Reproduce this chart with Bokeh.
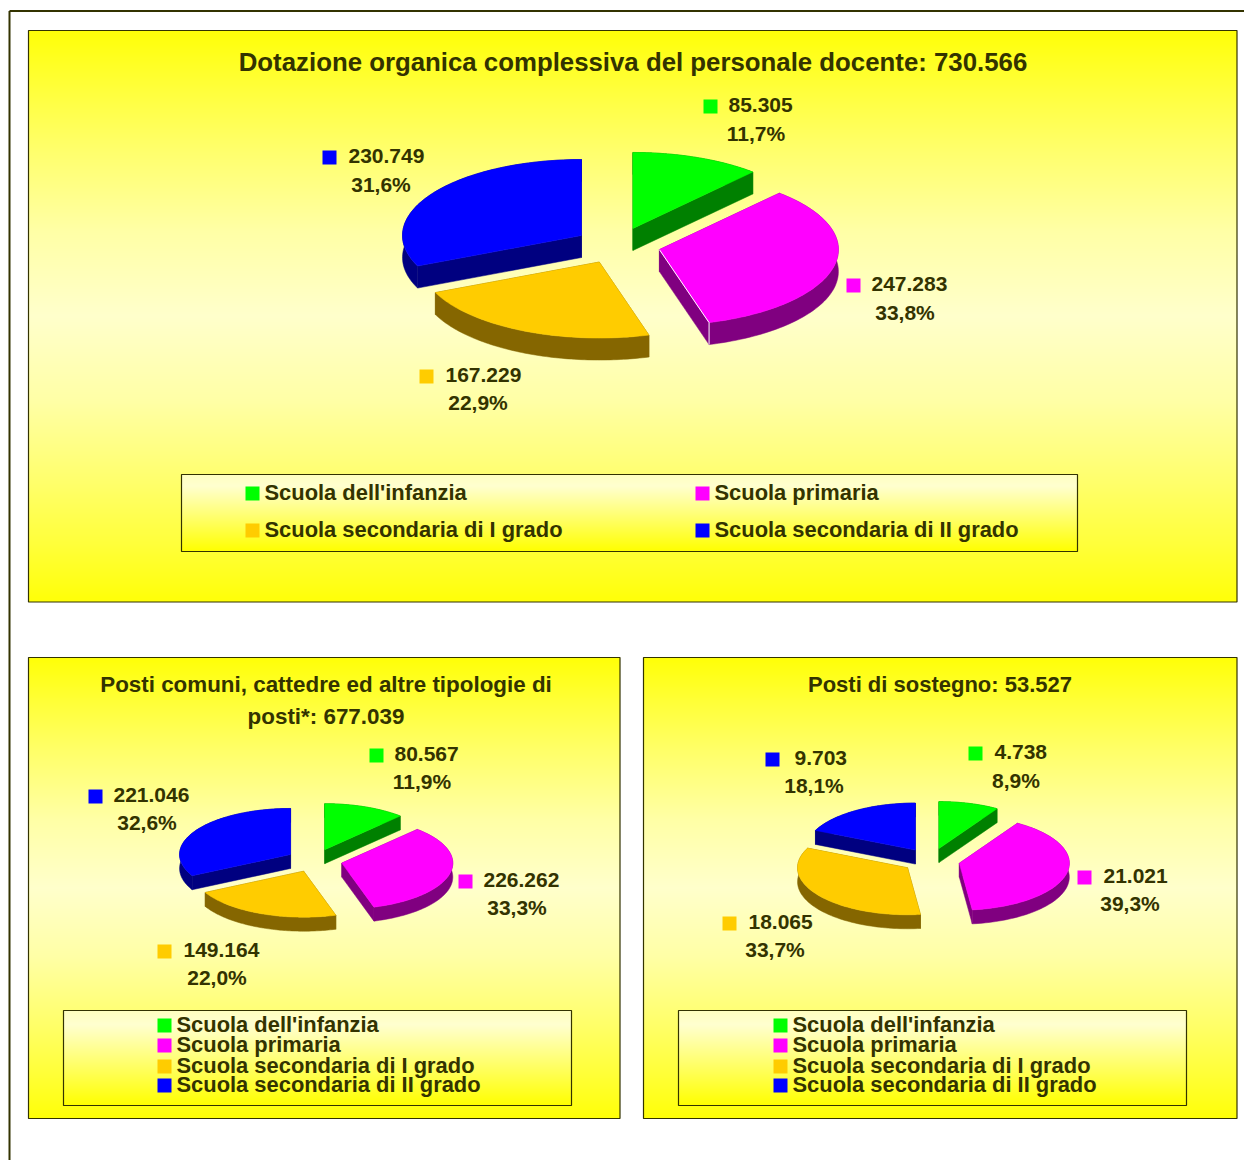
import numpy as np
from bokeh.plotting import figure
from bokeh.models import ColumnDataSource
from bokeh.core.properties import value
from bokeh.embed import file_html
from bokeh.resources import INLINE

# ---- data ----
categories = ["Scuola dell'infanzia", "Scuola primaria", "Scuola secondaria di I grado", "Scuola secondaria di II grado"]
totale_values = [85305, 247283, 167229, 230749]
totale_pct = ["11,7%", "33,8%", "22,9%", "31,6%"]
comuni_values = [80567, 226262, 149164, 221046]
comuni_pct = ["11,9%", "33,3%", "22,0%", "32,6%"]
sostegno_values = [4738, 21021, 18065, 9703]
sostegno_pct = ["8,9%", "39,3%", "33,7%", "18,1%"]
title_top = ["Dotazione organica complessiva del personale docente: 730.566"]
title_left = ["Posti comuni, cattedre ed altre tipologie di", "posti*: 677.039"]
title_right = ["Posti di sostegno: 53.527"]

# ---- styles ----
TOPS = ["#00FF00", "#FF00FF", "#FFCC00", "#0000FF"]
WALLS = ["#008000", "#800080", "#856600", "#000080"]
INK = "#333300"
FONT = "Liberation Sans"

p = figure(width=1244, height=1160, x_range=(0, 1244), y_range=(1160, 0),
           toolbar_location=None, output_backend="svg", min_border=0,
           outline_line_color=None, background_fill_color="white", border_fill_color="white")
p.axis.visible = False
p.grid.visible = False


def hex_rgb(c):
    return [int(c[i:i + 2], 16) for i in (1, 3, 5)]


def gradient(x0, y0, x1, y1, stops):
    h = int(y1 - y0)
    t = (np.arange(h) + 0.5) / h
    pos = [s[0] for s in stops]
    cols = np.array([hex_rgb(s[1]) for s in stops], float)
    rgb = np.stack([np.interp(t, pos, cols[:, i]) for i in range(3)], axis=1)
    img = np.zeros((h, 1), dtype=np.uint32)
    view = img.view(dtype=np.uint8).reshape((h, 1, 4))
    view[:, 0, 0] = rgb[:, 0]
    view[:, 0, 1] = rgb[:, 1]
    view[:, 0, 2] = rgb[:, 2]
    view[:, 0, 3] = 255
    p.image_rgba(image=[img], x=x0, y=y0, dw=x1 - x0, dh=y1 - y0)
    p.quad(left=[x0], right=[x1], top=[y0], bottom=[y1], fill_color=None, line_color=INK, line_width=1.2)


PANEL_STOPS = [(0, "#FFFF08"), (0.1, "#FFFF3A"), (0.2, "#FFFF68"), (0.35, "#FFFFA6"), (0.5, "#FFFFCC"),
               (0.65, "#FFFFA6"), (0.8, "#FFFF68"), (0.9, "#FFFF3A"), (1, "#FFFF08")]
LEGEND_STOPS = [(0, "#FFFFC0"), (0.15, "#FFFFD0"), (1, "#FFFF00")]


def pie(values, cx, cy, rx, ry, explode, depth, edge=None):
    total = sum(values)
    k = ry / rx
    start = 0.0
    for i, v in enumerate(values):
        sweep = 2 * np.pi * v / total
        mid = start + sweep / 2
        ax = cx + explode * np.sin(mid)
        ay = cy - explode * k * np.cos(mid)
        th = np.linspace(start, start + sweep, 80)
        ox = ax + rx * np.sin(th)
        oy = ay - ry * np.cos(th)
        # cut walls and rim, then the top face
        walls_x = [
            [ax, ox[0], ox[0], ax],
            [ax, ox[-1], ox[-1], ax],
            list(ox) + list(ox[::-1]),
        ]
        walls_y = [
            [ay, oy[0], oy[0] + depth, ay + depth],
            [ay, oy[-1], oy[-1] + depth, ay + depth],
            list(oy) + list(oy[::-1] + depth),
        ]
        p.patches(walls_x, walls_y, fill_color=WALLS[i], line_color=WALLS[i], line_width=0.5)
        p.patch([ax] + list(ox), [ay] + list(oy), fill_color=TOPS[i], line_color=TOPS[i], line_width=0.5)
        if edge == i:
            p.line([ax, ox[-1], ox[-1]], [ay, oy[-1], oy[-1] + depth], line_color="white", line_width=1)
        start += sweep


def labels(values, pcts, mx, my, vx, py, px, size):
    for i in range(4):
        p.quad(left=[mx[i]], right=[mx[i] + 14], top=[my[i] - 7], bottom=[my[i] + 7],
               fill_color=TOPS[i], line_color=None)
    src = ColumnDataSource(dict(
        x=vx, y=[m - 1.5 for m in my],
        t=[f"{v:,}".replace(",", ".") for v in values]))
    p.text("x", "y", "t", source=src, text_font=value(FONT), text_font_style="bold",
           text_font_size=size, text_color=INK, text_align="left", text_baseline="middle")
    src = ColumnDataSource(dict(x=[x - 0.5 for x in px], y=[y - 1 for y in py], t=pcts))
    p.text("x", "y", "t", source=src, text_font=value(FONT), text_font_style="bold",
           text_font_size=size, text_color=INK, text_align="center", text_baseline="middle")


def legend(mx, my, size):
    for i in range(4):
        p.quad(left=[mx[i]], right=[mx[i] + 14], top=[my[i] - 7], bottom=[my[i] + 7],
               fill_color=TOPS[i], line_color=None)
    src = ColumnDataSource(dict(x=[m + 19 for m in mx], y=[m - 1 for m in my], t=categories))
    p.text("x", "y", "t", source=src, text_font=value(FONT), text_font_style="bold",
           text_font_size=size, text_color=INK, text_align="left", text_baseline="middle")


def title(lines, x, ys, size):
    p.text(x=[x - 0.5] * len(lines), y=[y - 1 for y in ys], text=lines, text_font=value(FONT), text_font_style="bold",
           text_font_size=size, text_color=INK, text_align="center", text_baseline="middle")


# outer frame
p.line([9, 9], [1160, 10.5], line_color=INK, line_width=2)
p.line([9, 1244], [10.5, 10.5], line_color=INK, line_width=2)

# top panel
gradient(28, 30, 1236.5, 601.5, PANEL_STOPS)
title(title_top, 633, [62], "25.8px")
pie(totale_values, 617, 245, 179, 76, 43, 22, edge=1)
labels(totale_values, totale_pct, [703, 846, 419, 322], [106, 285, 376, 157], [728, 871, 445, 348],
       [134, 313, 403, 185], [756, 905, 478, 381], "21px")
gradient(181, 474, 1077, 551, LEGEND_STOPS)
legend([245, 695, 245, 695], [493, 493, 530, 530], "21.9px")

# lower left panel
gradient(28, 657, 619.5, 1118, PANEL_STOPS)
title(title_left, 326, [685, 717], "22.4px")
pie(comuni_values, 314, 860, 111, 46, 28, 14)
labels(comuni_values, comuni_pct, [369, 458, 157, 88], [755, 881, 951, 796], [394, 483, 183, 113],
       [782, 908, 978, 823], [422, 517, 217, 147], "21px")
gradient(63, 1010, 571, 1105, LEGEND_STOPS)
legend([157, 157, 157, 157], [1025, 1045, 1066, 1085], "21.9px")

# lower right panel
gradient(643, 657, 1236.5, 1118, PANEL_STOPS)
title(title_right, 940, [685], "22px")
pie(sostegno_values, 930.5, 860, 110, 47, 29, 14)
labels(sostegno_values, sostegno_pct, [968, 1077, 722, 765], [753, 877, 923, 759], [994, 1103, 748, 794],
       [781, 904, 950, 786], [1016, 1130, 775, 814], "21px")
gradient(678, 1010, 1186, 1105, LEGEND_STOPS)
legend([773, 773, 773, 773], [1025, 1045, 1066, 1085], "21.9px")

open("out.html", "w").write(file_html(p, INLINE))
